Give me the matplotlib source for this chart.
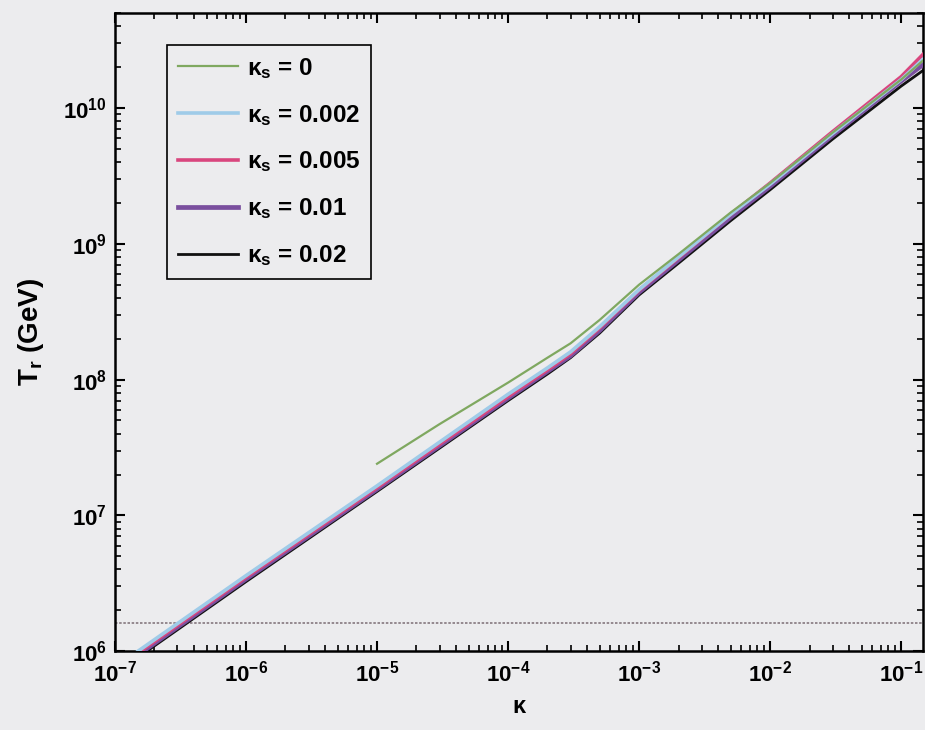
import matplotlib
matplotlib.use("Agg")
import matplotlib.pyplot as plt
from matplotlib.ticker import FixedLocator, LogLocator, NullFormatter

plt.rcParams['font.family'] = ['Liberation Sans', 'DejaVu Sans']
plt.rcParams['font.weight'] = 'bold'
plt.rcParams['axes.labelweight'] = 'bold'
plt.rcParams['mathtext.fontset'] = 'custom'
plt.rcParams['mathtext.rm'] = 'Liberation Sans:bold'
plt.rcParams['mathtext.it'] = 'Liberation Sans:bold:italic'
plt.rcParams['mathtext.bf'] = 'Liberation Sans:bold'
plt.rcParams['mathtext.default'] = 'rm'

# kappa grid shared by the kappa_s > 0 curves
kappa = [1.5e-7, 1e-6, 1e-5, 1e-4, 2e-4, 3e-4, 5e-4, 1e-3, 2e-3, 5e-3, 1e-2, 3e-2, 1e-1, 0.148]

# reheat temperature T_r in GeV, one list per kappa_s
tr_002 = [1.0e6, 3.6e6, 1.65e7, 7.8e7, 1.22e8, 1.6e8, 2.45e8, 4.6e8, 8.0e8, 1.65e9, 2.75e9, 6.5e9, 1.62e10, 2.3e10]
tr_005 = [0.97e6, 3.5e6, 1.6e7, 7.5e7, 1.18e8, 1.55e8, 2.4e8, 4.55e8, 7.9e8, 1.65e9, 2.8e9, 6.7e9, 1.7e10, 2.5e10]
tr_01 = [0.94e6, 3.4e6, 1.56e7, 7.3e7, 1.15e8, 1.5e8, 2.3e8, 4.4e8, 7.6e8, 1.57e9, 2.65e9, 6.3e9, 1.58e10, 2.1e10]
tr_02 = [0.9e6, 3.25e6, 1.5e7, 7.0e7, 1.1e8, 1.45e8, 2.2e8, 4.2e8, 7.2e8, 1.48e9, 2.5e9, 5.9e9, 1.45e10, 1.9e10]

# kappa_s = 0 only exists above kappa = 1e-5
kappa_0 = [1e-5, 3e-5, 1e-4, 2e-4, 3e-4, 5e-4, 1e-3, 2e-3, 5e-3, 1e-2, 3e-2, 1e-1, 0.148]
tr_0 = [2.4e7, 4.7e7, 9.5e7, 1.45e8, 1.85e8, 2.75e8, 5.0e8, 8.4e8, 1.7e9, 2.8e9, 6.6e9, 1.62e10, 2.25e10]

# horizontal bound
t_bound = 1.6e6

# decade ticks
xticks = [1e-7, 1e-6, 1e-5, 1e-4, 1e-3, 1e-2, 1e-1]
yticks = [1e6, 1e7, 1e8, 1e9, 1e10]

labels = ['0', '0.002', '0.005', '0.01', '0.02']
colors = ['#7fa860', '#9fcbe8', '#d9467e', '#7a4f9e', '#111111']
widths = [1.6, 2.6, 2.6, 3.4, 2.0]

fig = plt.figure(figsize=(9.25, 7.3), dpi=100, facecolor='#ececee')
ax = fig.add_axes([0.1243, 0.108, 0.874, 0.874])
ax.set_facecolor('#ececee')

ax.axhline(t_bound, color='#85787f', lw=1.2, ls=(0, (1.5, 1)))

series = [(kappa_0, tr_0), (kappa, tr_002), (kappa, tr_005), (kappa, tr_01), (kappa, tr_02)]
handles = []
for (k, t), lab, c, w in zip(series, labels, colors, widths):
    h, = ax.plot(k, t, color=c, lw=w,
                 label=r'κ$_\mathregular{s}$ = ' + lab)
    handles.append(h)
# lighter curves sit on top of the darker ones
for h, z in zip(handles, [6, 5, 4, 3, 2]):
    h.set_zorder(z)

ax.set_xscale('log')
ax.set_yscale('log')
ax.set_xlim(1e-7, 0.148)
ax.set_ylim(1e6, 5e10)

ax.xaxis.set_major_locator(FixedLocator(xticks))
ax.yaxis.set_major_locator(FixedLocator(yticks))
ax.xaxis.set_minor_locator(LogLocator(base=10, subs=range(2, 10), numticks=20))
ax.yaxis.set_minor_locator(LogLocator(base=10, subs=range(2, 10), numticks=20))
ax.xaxis.set_minor_formatter(NullFormatter())
ax.yaxis.set_minor_formatter(NullFormatter())

ax.tick_params(which='both', direction='in', top=True, right=True, color='black')
ax.tick_params(which='major', length=7, width=1.5, labelsize=16)
ax.tick_params(axis='x', which='major', pad=7)
ax.tick_params(axis='y', which='major', pad=6)
ax.tick_params(which='minor', length=4, width=1.2)
for s in ax.spines.values():
    s.set_linewidth(1.8)
    s.set_color('black')

ax.set_xlabel('κ', fontsize=17, labelpad=6)
ax.set_ylabel(r'T$_\mathregular{r}$ (GeV)', fontsize=20, labelpad=12)

leg = ax.legend(loc='upper left', bbox_to_anchor=(0.064, 0.95), fontsize=17.5,
                frameon=True, fancybox=False, edgecolor='black', facecolor='#ececee',
                handlelength=2.5, handletextpad=0.35, labelspacing=0.9,
                borderpad=0.45, borderaxespad=0)
leg.get_frame().set_linewidth(1.2)
leg.get_frame().set_alpha(1)

fig.savefig('out.png', dpi=100, facecolor=fig.get_facecolor())
